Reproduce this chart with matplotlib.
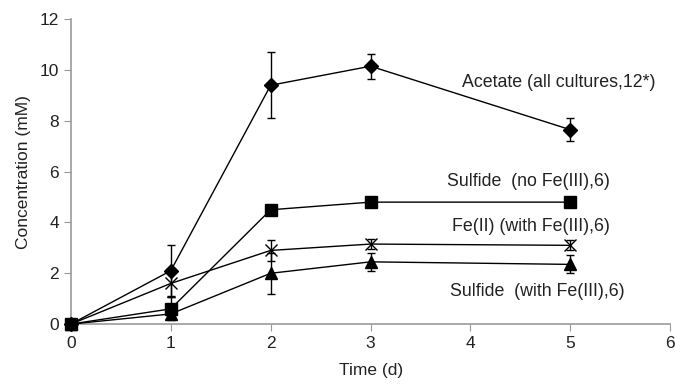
import matplotlib
matplotlib.use("Agg")
import matplotlib.pyplot as plt

plt.rcParams['font.family'] = ['Liberation Sans', 'DejaVu Sans']

# data
days = [0, 1, 2, 3, 5]
acetate = [0, 2.1, 9.4, 10.15, 7.65]
acetate_err = [0, 1.0, 1.3, 0.5, 0.45]
sulfide_nofe = [0, 0.6, 4.5, 4.8, 4.8]
sulfide_nofe_err = [0, 0.45, 0.1, 0.15, 0.15]
fe2 = [0, 1.6, 2.9, 3.15, 3.1]
fe2_err = [0, 0.55, 0.4, 0.2, 0.2]
sulfide_fe = [0, 0.4, 2.0, 2.45, 2.35]
sulfide_fe_err = [0, 0.1, 0.8, 0.35, 0.35]

labels = ["Acetate (all cultures,12*)", "Sulfide  (no Fe(III),6)",
          "Fe(II) (with Fe(III),6)", "Sulfide  (with Fe(III),6)"]
label_pos = [(3.92, 9.5), (3.77, 5.6), (3.82, 3.85), (3.8, 1.3)]

fig = plt.figure(figsize=(6.75, 3.84), dpi=100)
ax = fig.add_axes([0.105, 0.156, 0.888, 0.794])

common = dict(color='black', lw=1.0, capsize=3, elinewidth=1.0, capthick=1.0)
series = [
    (acetate, acetate_err, dict(marker='D', ms=7)),
    (fe2, fe2_err, dict(marker='x', ms=9, mew=1.0)),
    (sulfide_fe, sulfide_fe_err, dict(marker='^', ms=8)),
    (sulfide_nofe, sulfide_nofe_err, dict(marker='s', ms=8)),
]
for i, (vals, errs, style) in enumerate(series):
    lines = ax.errorbar(days, vals, yerr=errs, zorder=3 + i, **common, **style)
    lines[0].set_clip_on(False)

for txt, (x, y) in zip(labels, label_pos):
    ax.text(x, y, txt, ha='left', va='center', fontsize=12.8, color='#222222')

ax.set_xlim(0, 6)
ax.set_ylim(0, 12)
ax.set_xticks(range(0, 7))
ax.set_yticks(range(0, 13, 2))
for s in ['top', 'right']:
    ax.spines[s].set_visible(False)
for s in ['left', 'bottom']:
    ax.spines[s].set_color('#999999')
    ax.spines[s].set_linewidth(1.2)
ax.tick_params(colors='#999999', labelcolor='#222222', labelsize=12.5, length=5)
ax.set_xlabel('Time (d)', fontsize=12.5, color='#222222', labelpad=9)
ax.set_ylabel('Concentration (mM)', fontsize=12.5, color='#222222', labelpad=6)

fig.savefig('out.png', dpi=100)
